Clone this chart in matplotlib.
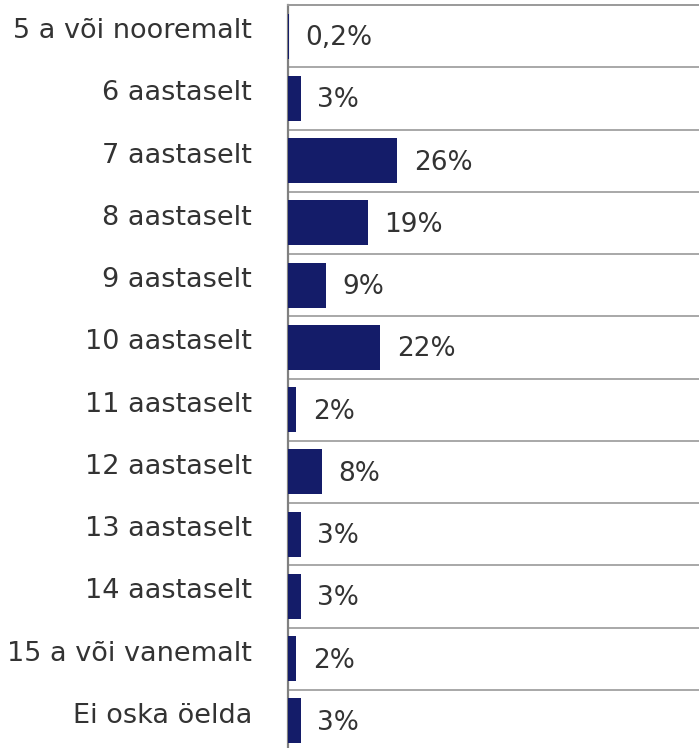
import matplotlib.pyplot as plt
import numpy as np

# ── Data ─────────────────────────────────────────────
categories = ["5 a või nooremalt", "6 aastaselt", "7 aastaselt", "8 aastaselt",
              "9 aastaselt", "10 aastaselt", "11 aastaselt", "12 aastaselt",
              "13 aastaselt", "14 aastaselt", "15 a või vanemalt", "Ei oska öelda"]
values = [0.2, 3, 26, 19, 9, 22, 2, 8, 3, 3, 2, 3]
value_labels = ["0,2%", "3%", "26%", "19%", "9%", "22%", "2%", "8%",
                "3%", "3%", "2%", "3%"]

BAR_COLOR = "#141c69"
TEXT_COLOR = "#333333"
GRID_COLOR = "#9a9a9a"

fig = plt.figure(figsize=(6.99, 7.48), dpi=100)
ax = fig.add_axes([288 / 699, -4 / 748, 1 - 288 / 699, 747 / 748])

y = np.arange(len(categories))
ax.barh(y, values, height=0.72, color=BAR_COLOR, zorder=3)

# ── Value labels ─────────────────────────────────────
for yi, v, lab in zip(y, values, value_labels):
    ax.annotate(lab, (v, yi), xytext=(12, -1.5), textcoords="offset points",
                va="center", ha="left", fontsize=19, color=TEXT_COLOR)

# ── Row separators ───────────────────────────────────
for yi in y[:-1]:
    ax.axhline(yi + 0.5, color=GRID_COLOR, linewidth=1.2, zorder=1)

ax.set_xlim(0, 97.9)
ax.set_ylim(len(categories) - 0.5, -0.5)
ax.set_xticks([])
ax.set_yticks(y - 0.13)
ax.set_yticklabels(categories, fontsize=19.5, color=TEXT_COLOR)
ax.tick_params(axis="y", length=0, pad=26)

for side in ["right", "bottom"]:
    ax.spines[side].set_visible(False)
ax.spines["top"].set_color(GRID_COLOR)
ax.spines["top"].set_linewidth(1.4)
ax.spines["left"].set_color("#808080")
ax.spines["left"].set_linewidth(1.6)

fig.savefig("out.png", dpi=100)
